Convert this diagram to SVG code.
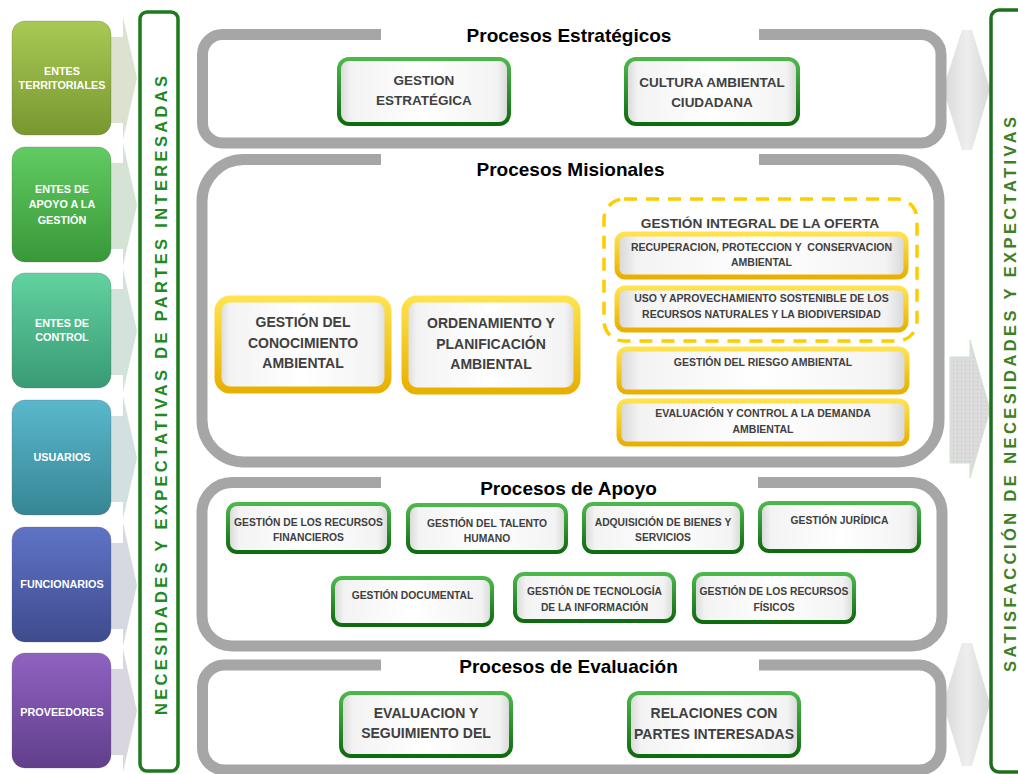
<svg xmlns="http://www.w3.org/2000/svg" width="1018" height="774" viewBox="0 0 1018 774">
<defs>
<linearGradient id="boxfill" x1="0" y1="0" x2="1" y2="0">
<stop offset="0" stop-color="#d6d6d6"/><stop offset="0.07" stop-color="#f3f3f3"/><stop offset="0.5" stop-color="#ffffff"/><stop offset="0.93" stop-color="#f3f3f3"/><stop offset="1" stop-color="#d6d6d6"/>
</linearGradient>
<linearGradient id="gstroke" x1="0" y1="0" x2="0" y2="1">
<stop offset="0" stop-color="#4cb84c"/><stop offset="1" stop-color="#0f6b0f"/>
</linearGradient>
<linearGradient id="ystroke" x1="0" y1="0" x2="0" y2="1">
<stop offset="0" stop-color="#ffe24d"/><stop offset="1" stop-color="#e8b000"/>
</linearGradient>
<linearGradient id="c1" x1="0" y1="0" x2="0" y2="1"><stop offset="0" stop-color="#a8c955"/><stop offset="1" stop-color="#789830"/></linearGradient>
<linearGradient id="c2" x1="0" y1="0" x2="0" y2="1"><stop offset="0" stop-color="#62cb62"/><stop offset="1" stop-color="#389838"/></linearGradient>
<linearGradient id="c3" x1="0" y1="0" x2="0" y2="1"><stop offset="0" stop-color="#62d2a0"/><stop offset="1" stop-color="#389a74"/></linearGradient>
<linearGradient id="c4" x1="0" y1="0" x2="0" y2="1"><stop offset="0" stop-color="#5ab8cc"/><stop offset="1" stop-color="#378594"/></linearGradient>
<linearGradient id="c5" x1="0" y1="0" x2="0" y2="1"><stop offset="0" stop-color="#5f73c6"/><stop offset="1" stop-color="#3e4b8e"/></linearGradient>
<linearGradient id="c6" x1="0" y1="0" x2="0" y2="1"><stop offset="0" stop-color="#8f62c2"/><stop offset="1" stop-color="#613f8b"/></linearGradient>
<linearGradient id="darr" x1="0" y1="0" x2="1" y2="0">
<stop offset="0" stop-color="#d8d8d8"/><stop offset="0.5" stop-color="#eeeeee"/><stop offset="1" stop-color="#d8d8d8"/>
</linearGradient>
<pattern id="dots" width="4" height="4" patternUnits="userSpaceOnUse">
<rect width="4" height="4" fill="#dcdcdc"/><rect x="1" y="1" width="1" height="1" fill="#c2c2c2"/>
</pattern>
<style>
.frame{fill:none;stroke:#a6a6a6;stroke-width:11}
.gbox{fill:url(#boxfill);stroke:url(#gstroke);stroke-width:4}
.ybox{fill:url(#boxfill);stroke:url(#ystroke);stroke-width:5}
.ybig{fill:url(#boxfill);stroke:url(#ystroke);stroke-width:7}
.t{font-family:"Liberation Sans",Arial,sans-serif;font-weight:bold;fill:#404040;text-anchor:middle}
.title{font-family:"Liberation Sans",Arial,sans-serif;font-weight:bold;fill:#000;text-anchor:middle;font-size:19px}
.lt{font-family:"Liberation Sans",Arial,sans-serif;font-weight:bold;fill:#fff;text-anchor:middle;font-size:10.8px}
.lbox{stroke:#5a5a5a;stroke-opacity:0.25;stroke-width:1}
.vt{font-family:"Liberation Sans",Arial,sans-serif;font-weight:bold;text-anchor:middle;font-size:16.5px}
</style>
</defs>
<rect width="1018" height="774" fill="#ffffff"/>

<!-- connectors / flow arrows -->
<g id="connectors">
<g id="left-arrows">
<path d="M110,37 H123 V17 L137,78 L123,140 V123 H110 Z" fill="#dce2cf"/>
<path d="M110,163 H123 V143 L137,205 L123,266 V249 H110 Z" fill="#d4e3d4"/>
<path d="M110,289 H123 V269 L137,331 L123,392 V375 H110 Z" fill="#d3e2da"/>
<path d="M110,416 H123 V396 L137,458 L123,519 V502 H110 Z" fill="#d2e0e2"/>
<path d="M110,543 H123 V523 L137,585 L123,646 V629 H110 Z" fill="#d6d8e2"/>
<path d="M110,669 H123 V649 L137,711 L123,772 V755 H110 Z" fill="#dad6e0"/>
</g>
<g id="right-arrows">
<polygon points="943,89 962,30 972,30 990,89 972,150 962,150" fill="url(#darr)"/>
<polygon points="943,704 962,643 972,643 990,704 972,766 962,766" fill="url(#darr)"/>
<path d="M950,357 H970 V340 L990,410 L970,478 V463 H950 Z" fill="url(#dots)" stroke="#cfe3cf" stroke-width="1"/>
</g>
</g>

<!-- side bars -->
<g id="bar-left">
<rect x="140" y="12" width="38" height="759" rx="7" fill="#fff" stroke="#1d7a1d" stroke-width="3.5"/>
<text class="vt" fill="#1f8a1f" transform="translate(166.5,395.5) rotate(-90)" textLength="639" lengthAdjust="spacing">NECESIDADES Y EXPECTATIVAS DE PARTES INTERESADAS</text>
</g>
<g id="bar-right">
<rect x="991" y="10" width="45" height="762" rx="8" fill="#fff" stroke="#1d701d" stroke-width="3.5"/>
<text class="vt" fill="#3f7f25" transform="translate(1015.5,394.5) rotate(-90)" textLength="555" lengthAdjust="spacing">SATISFACCIÓN DE NECESIDADES Y EXPECTATIVAS</text>
</g>

<!-- stakeholders -->
<g id="entes-territoriales">
<rect class="lbox" x="12" y="21" width="99" height="114" rx="13" fill="url(#c1)"/>
<text class="lt" x="62" y="75">ENTES</text>
<text class="lt" x="62" y="89">TERRITORIALES</text>
</g>
<g id="entes-apoyo">
<rect class="lbox" x="12" y="147" width="99" height="115" rx="13" fill="url(#c2)"/>
<text class="lt" x="62" y="193">ENTES DE</text>
<text class="lt" x="62" y="208">APOYO A LA</text>
<text class="lt" x="62" y="224">GESTIÓN</text>
</g>
<g id="entes-control">
<rect class="lbox" x="12" y="273" width="99" height="115" rx="13" fill="url(#c3)"/>
<text class="lt" x="62" y="327">ENTES DE</text>
<text class="lt" x="62" y="341">CONTROL</text>
</g>
<g id="usuarios">
<rect class="lbox" x="12" y="400" width="99" height="115" rx="13" fill="url(#c4)"/>
<text class="lt" x="62" y="461">USUARIOS</text>
</g>
<g id="funcionarios">
<rect class="lbox" x="12" y="527" width="99" height="115" rx="13" fill="url(#c5)"/>
<text class="lt" x="62" y="588">FUNCIONARIOS</text>
</g>
<g id="proveedores">
<rect class="lbox" x="12" y="653" width="99" height="115" rx="13" fill="url(#c6)"/>
<text class="lt" x="62" y="716">PROVEEDORES</text>
</g>

<!-- Procesos Estratégicos -->
<g id="procesos-estrategicos">
<path class="frame" d="M381,34.5 H222.5 A20,20 0 0 0 202.5,54.5 V123 A20,20 0 0 0 222.5,143 H921 A20,20 0 0 0 941,123 V54.5 A20,20 0 0 0 921,34.5 H759"/>
<text class="title" x="569" y="42">Procesos Estratégicos</text>
</g>
<g id="gestion-estrategica">
<rect class="gbox" x="339" y="59" width="170" height="65" rx="10"/>
<text class="t" font-size="13.5" x="424" y="85">GESTION</text>
<text class="t" font-size="13.5" x="424" y="105">ESTRATÉGICA</text>
</g>
<g id="cultura-ambiental">
<rect class="gbox" x="626" y="59" width="172" height="65" rx="10"/>
<text class="t" font-size="13.5" x="712" y="87">CULTURA AMBIENTAL</text>
<text class="t" font-size="13.5" x="712" y="107">CIUDADANA</text>
</g>

<!-- Procesos Misionales -->
<g id="procesos-misionales">
<path class="frame" d="M381,159.5 H244 A42,42 0 0 0 202,201.5 V420 A42,42 0 0 0 244,462 H897 A42,42 0 0 0 939,420 V201.5 A42,42 0 0 0 897,159.5 H759"/>
<text class="title" x="570.5" y="176">Procesos Misionales</text>
</g>
<g id="gestion-conocimiento">
<rect class="ybig" x="218" y="299" width="170" height="91" rx="12"/>
<text class="t" font-size="14" x="303" y="327">GESTIÓN DEL</text>
<text class="t" font-size="14" x="303" y="348">CONOCIMIENTO</text>
<text class="t" font-size="14" x="303" y="368">AMBIENTAL</text>
</g>
<g id="ordenamiento">
<rect class="ybig" x="405" y="299" width="172" height="92" rx="12"/>
<text class="t" font-size="14" x="491" y="328">ORDENAMIENTO Y</text>
<text class="t" font-size="14" x="491" y="349">PLANIFICACIÓN</text>
<text class="t" font-size="14" x="491" y="369">AMBIENTAL</text>
</g>
<g id="gestion-integral-oferta">
<rect x="604" y="199" width="313" height="142" rx="20" fill="none" stroke="#ffcc00" stroke-width="3.5" stroke-dasharray="13 9"/>
<text class="t" font-size="13.7" x="760" y="228">GESTIÓN INTEGRAL DE LA OFERTA</text>
</g>
<g id="recuperacion">
<rect class="ybox" x="617" y="234" width="289" height="43" rx="8"/>
<text class="t" font-size="10.5" x="761.5" y="251" xml:space="preserve">RECUPERACION, PROTECCION Y  CONSERVACION</text>
<text class="t" font-size="10.5" x="761.5" y="266">AMBIENTAL</text>
</g>
<g id="uso-aprovechamiento">
<rect class="ybox" x="617" y="288" width="289" height="42" rx="8"/>
<text class="t" font-size="10.5" x="761.5" y="302">USO Y APROVECHAMIENTO SOSTENIBLE DE LOS</text>
<text class="t" font-size="10.5" x="761.5" y="318">RECURSOS NATURALES Y LA BIODIVERSIDAD</text>
</g>
<g id="gestion-riesgo">
<rect class="ybox" x="619" y="349" width="288" height="43" rx="8"/>
<text class="t" font-size="10.5" x="763" y="366">GESTIÓN DEL RIESGO AMBIENTAL</text>
</g>
<g id="evaluacion-control">
<rect class="ybox" x="619" y="401" width="288" height="43" rx="8"/>
<text class="t" font-size="10.5" x="763" y="417">EVALUACIÓN Y CONTROL A LA DEMANDA</text>
<text class="t" font-size="10.5" x="763" y="433">AMBIENTAL</text>
</g>

<!-- Procesos de Apoyo -->
<g id="procesos-apoyo">
<path class="frame" d="M381,482.5 H232 A30,30 0 0 0 202,512.5 V616 A30,30 0 0 0 232,646 H912 A30,30 0 0 0 942,616 V512.5 A30,30 0 0 0 912,482.5 H758"/>
<text class="title" x="568.5" y="495">Procesos de Apoyo</text>
</g>
<g id="recursos-financieros">
<rect class="gbox" x="228" y="504" width="161" height="48" rx="9"/>
<text class="t" font-size="10.3" x="308.5" y="526">GESTIÓN DE LOS RECURSOS</text>
<text class="t" font-size="10.3" x="308.5" y="541">FINANCIEROS</text>
</g>
<g id="talento-humano">
<rect class="gbox" x="408" y="505" width="158" height="47" rx="9"/>
<text class="t" font-size="10.3" x="487" y="527">GESTIÓN DEL TALENTO</text>
<text class="t" font-size="10.3" x="487" y="542">HUMANO</text>
</g>
<g id="adquisicion">
<rect class="gbox" x="584" y="504" width="158" height="48" rx="9"/>
<text class="t" font-size="10.3" x="663" y="526">ADQUISICIÓN DE BIENES Y</text>
<text class="t" font-size="10.3" x="663" y="541">SERVICIOS</text>
</g>
<g id="gestion-juridica">
<rect class="gbox" x="760" y="503" width="159" height="48" rx="9"/>
<text class="t" font-size="10.3" x="839.5" y="524">GESTIÓN JURÍDICA</text>
</g>
<g id="gestion-documental">
<rect class="gbox" x="333" y="578" width="159" height="47" rx="9"/>
<text class="t" font-size="10.3" x="412.5" y="599">GESTIÓN DOCUMENTAL</text>
</g>
<g id="tecnologia">
<rect class="gbox" x="515" y="574" width="159" height="47" rx="9"/>
<text class="t" font-size="10.3" x="594.5" y="595">GESTIÓN DE TECNOLOGÍA</text>
<text class="t" font-size="10.3" x="594.5" y="611">DE LA INFORMACIÓN</text>
</g>
<g id="recursos-fisicos">
<rect class="gbox" x="694" y="574" width="160" height="48" rx="9"/>
<text class="t" font-size="10.3" x="774" y="595">GESTIÓN DE LOS RECURSOS</text>
<text class="t" font-size="10.3" x="774" y="611">FÍSICOS</text>
</g>

<!-- Procesos de Evaluación -->
<g id="procesos-evaluacion">
<path class="frame" d="M381,665 H224.5 A22,22 0 0 0 202.5,687 V748 A22,22 0 0 0 224.5,770 H919 A22,22 0 0 0 941,748 V687 A22,22 0 0 0 919,665 H759"/>
<text class="title" x="568.5" y="673">Procesos de Evaluación</text>
</g>
<g id="evaluacion-seguimiento">
<rect class="gbox" x="341" y="693" width="170" height="63" rx="10"/>
<text class="t" font-size="14" x="426" y="718">EVALUACION Y</text>
<text class="t" font-size="14" x="426" y="738">SEGUIMIENTO DEL</text>
</g>
<g id="relaciones-partes">
<rect class="gbox" x="629" y="693" width="170" height="63" rx="10"/>
<text class="t" font-size="14" x="714" y="718">RELACIONES CON</text>
<text class="t" font-size="14" x="714" y="739">PARTES INTERESADAS</text>
</g>
</svg>
